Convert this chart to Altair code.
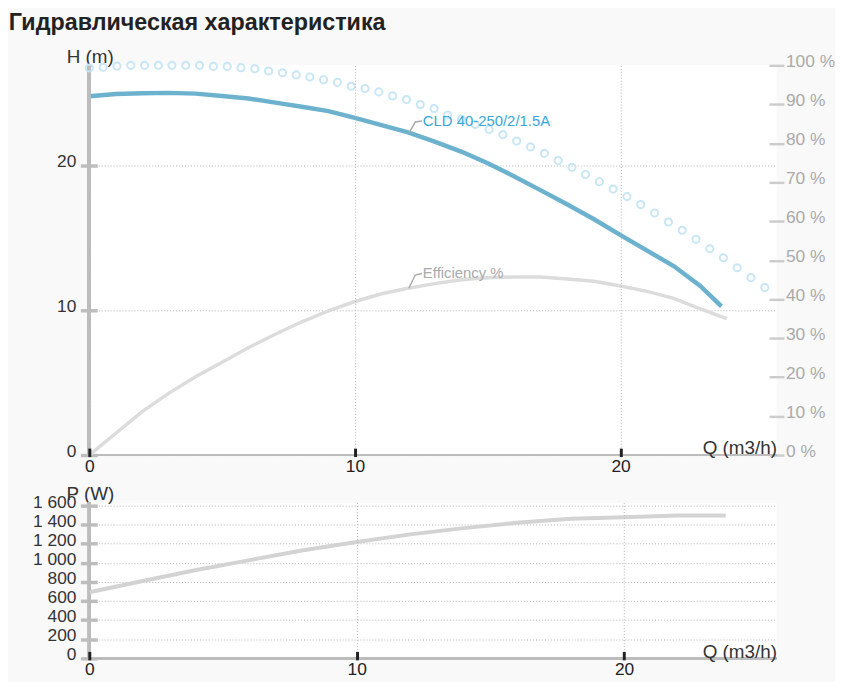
import altair as alt
import pandas as pd

TITLE = "Гидравлическая характеристика"
PUMP_NAME = "CLD 40-250/2/1.5A"
EFF_NAME = "Efficiency %"

# H-Q curve of the pump
q_head = [0, 1, 2, 3, 4, 5, 6, 7, 8, 9, 10, 11, 12, 13, 14, 15, 16, 17, 18, 19, 20, 21, 22, 23, 23.8]
h_curve = [24.77, 24.92, 24.98, 25.0, 24.95, 24.78, 24.61, 24.33, 24.04, 23.74, 23.28, 22.77, 22.27,
           21.63, 20.95, 20.14, 19.23, 18.27, 17.29, 16.28, 15.18, 14.11, 13.05, 11.68, 10.27]
# efficiency curve (%)
q_eff = [0, 1, 2, 3, 4, 5, 6, 7, 8, 9, 10, 11, 12, 13, 14, 15, 16, 17, 18, 19, 20, 21, 22, 23, 24]
eff_curve = [0, 5.6, 11.2, 15.9, 20.1, 23.8, 27.6, 31.0, 34.2, 37.0, 39.4, 41.4, 42.8,
             44.0, 45.0, 45.5, 45.7, 45.7, 45.2, 44.6, 43.4, 42.0, 40.2, 37.5, 35.0]

# dotted (circle markers) curve
q_dots = [0, 0.52, 1.04, 1.56, 2.08, 2.60, 3.11, 3.63, 4.15, 4.67, 5.19, 5.71, 6.23, 6.75, 7.27,
          7.79, 8.30, 8.82, 9.34, 9.86, 10.38, 10.90, 11.42, 11.94, 12.46, 12.98, 13.49, 14.01,
          14.53, 15.05, 15.57, 16.09, 16.61, 17.13, 17.65, 18.17, 18.68, 19.20, 19.72, 20.24,
          20.76, 21.28, 21.80, 22.32, 22.84, 23.36, 23.87, 24.39, 24.91, 25.43]
h_dots = [26.72, 26.77, 26.85, 26.90, 26.90, 26.90, 26.90, 26.90, 26.90, 26.83, 26.83, 26.74,
          26.67, 26.51, 26.39, 26.24, 26.10, 25.91, 25.73, 25.46, 25.30, 25.07, 24.79, 24.54,
          24.20, 23.92, 23.47, 23.19, 22.82, 22.48, 22.12, 21.68, 21.27, 20.83, 20.33, 19.87,
          19.37, 18.87, 18.36, 17.84, 17.29, 16.71, 16.09, 15.52, 14.90, 14.24, 13.62, 12.93,
          12.25, 11.56]

# power curve
q_power = [0, 2, 4, 6, 8, 10, 12, 14, 16, 18, 20, 22, 23.8]
p_power = [693, 810, 925, 1029, 1132, 1219, 1299, 1364, 1420, 1462, 1478, 1496, 1496]

# ticks
q_ticks = [0, 10, 20]
h_ticks = [0, 10, 20]
eff_ticks = [0, 10, 20, 30, 40, 50, 60, 70, 80, 90, 100]
p_ticks = [0, 200, 400, 600, 800, 1000, 1200, 1400, 1600]

# label anchors (connector polylines)
pump_label_q = [12.03, 12.27, 12.52]
pump_label_h = [22.21, 22.99, 23.06]
eff_label_q = [12.03, 12.27, 12.52]
eff_label_e = [42.8, 46.2, 46.6]

FONT = "Liberation Sans, Arial, Helvetica, sans-serif"
W = 693
H_TOP = 393
H_BOT = 157
GRID = "#b5b5b5"

df_h = pd.DataFrame({"Q": q_head, "H": h_curve})
df_e = pd.DataFrame({"Q": q_eff, "E": eff_curve})
df_d = pd.DataFrame({"Q": q_dots, "H": h_dots})
df_p = pd.DataFrame({"Q": q_power, "P": p_power})
df_pl = pd.DataFrame({"Q": pump_label_q, "H": pump_label_h, "o": [0, 1, 2]})
df_el = pd.DataFrame({"Q": eff_label_q, "E": eff_label_e, "o": [0, 1, 2]})
df_pt = pd.DataFrame({"Q": [pump_label_q[-1]], "H": [pump_label_h[-1]], "t": [PUMP_NAME]})
df_et = pd.DataFrame({"Q": [eff_label_q[-1]], "E": [eff_label_e[-1]], "t": [EFF_NAME]})

xs_top = alt.Scale(domain=[0, 25.87], nice=False, zero=False)
xs_bot = alt.Scale(domain=[0, 25.7], nice=False, zero=False)
hs = alt.Scale(domain=[0, 26.9], nice=False)
es = alt.Scale(domain=[0, 100], nice=False)
ps = alt.Scale(domain=[0, 1631], nice=False)


def x_axis(title_y):
    return alt.Axis(values=q_ticks, format="d", title="Q (m3/h)", titleX=W, titleY=title_y,
                    titleAlign="right", titleBaseline="alphabetic", titleAngle=0,
                    offset=-7, tickSize=8.5, tickWidth=3, tickColor="#222", domain=False,
                    grid=True, gridColor=GRID, gridDash=[1, 2], labelPadding=1.2,
                    labelFlush=False, labelOverlap=False, labelColor="#222", zindex=1)


def left_axis(values, title, expr=None):
    kw = dict(values=values, title=title, titleAngle=0, titleX=-7.5, titleY=-3,
              titleAlign="center", titleBaseline="alphabetic", offset=-8, tickSize=17,
              tickWidth=3.5, tickColor="#bdbdbd", domain=False, grid=True, gridColor=GRID,
              gridDash=[1, 2], labelPadding=4.5, labelOffset=-3.5, labelFlush=False,
              labelOverlap=False, labelColor="#333")
    if expr:
        kw["labelExpr"] = expr
    return alt.Axis(**kw)


AX_X_TOP = x_axis(5)
AX_X_BOT = x_axis(6.5)
AX_H = left_axis(h_ticks, "H (m)")
AX_P = left_axis(p_ticks, "P (W)", "replace(format(datum.value, ','), ',', ' ')")
AX_E = alt.Axis(
    orient="right", values=eff_ticks, labelExpr="datum.value + ' %'", title=None,
    offset=-7.5, tickSize=15, tickWidth=2.5, tickColor="#cccccc", domain=False, grid=False,
    labelPadding=1.5, labelOffset=-4, labelFlush=False, labelOverlap=False,
    labelColor="#aaaaaa")

# ---- top chart: H (left) + efficiency (right) ----
h_line = alt.Chart(df_h).mark_line(color="#6cb2cf", strokeWidth=4.5).encode(
    x=alt.X("Q:Q", scale=xs_top, axis=AX_X_TOP),
    y=alt.Y("H:Q", scale=hs, axis=AX_H))
rule_y = alt.Chart(df_h).mark_rule(color="#bdbdbd", strokeWidth=3).encode(
    x=alt.datum(0, scale=xs_top, axis=AX_X_TOP))
rule_x = alt.Chart(df_h).mark_rule(color="#bdbdbd", strokeWidth=2).encode(
    y=alt.datum(0, scale=hs, axis=AX_H))
dots = alt.Chart(df_d).mark_point(shape="circle", filled=False, color="#c8e6f5",
                                  strokeWidth=2, size=52, opacity=1).encode(
    x=alt.X("Q:Q", scale=xs_top, axis=AX_X_TOP),
    y=alt.Y("H:Q", scale=hs, axis=AX_H))
pump_conn = alt.Chart(df_pl).mark_line(color="#aaaaaa", strokeWidth=1.5).encode(
    x=alt.X("Q:Q", scale=xs_top, axis=AX_X_TOP),
    y=alt.Y("H:Q", scale=hs, axis=AX_H), order="o:O")
pump_txt = alt.Chart(df_pt).mark_text(align="left", baseline="middle", dx=1, fontSize=15,
                                      font=FONT, color="#3aa6d8").encode(
    x=alt.X("Q:Q", scale=xs_top, axis=AX_X_TOP),
    y=alt.Y("H:Q", scale=hs, axis=AX_H), text="t:N")
layer_h = alt.layer(h_line, rule_y, rule_x, dots, pump_conn, pump_txt)

e_line = alt.Chart(df_e).mark_line(color="#dcdcdc", strokeWidth=3.5).encode(
    x=alt.X("Q:Q", scale=xs_top, axis=AX_X_TOP),
    y=alt.Y("E:Q", scale=es, axis=AX_E))
eff_conn = alt.Chart(df_el).mark_line(color="#aaaaaa", strokeWidth=1.5).encode(
    x=alt.X("Q:Q", scale=xs_top, axis=AX_X_TOP),
    y=alt.Y("E:Q", scale=es, axis=AX_E), order="o:O")
eff_txt = alt.Chart(df_et).mark_text(align="left", baseline="middle", dx=1, fontSize=15,
                                     font=FONT, color="#aaaaaa").encode(
    x=alt.X("Q:Q", scale=xs_top, axis=AX_X_TOP),
    y=alt.Y("E:Q", scale=es, axis=AX_E), text="t:N")
layer_e = alt.layer(e_line, eff_conn, eff_txt)

top = alt.layer(layer_h, layer_e).resolve_scale(y="independent").properties(
    width=W, height=H_TOP)

# ---- bottom chart: power ----
p_line = alt.Chart(df_p).mark_line(color="#d3d3d3", strokeWidth=4).encode(
    x=alt.X("Q:Q", scale=xs_bot, axis=AX_X_BOT),
    y=alt.Y("P:Q", scale=ps, axis=AX_P))
rule_y2 = alt.Chart(df_p).mark_rule(color="#bdbdbd", strokeWidth=3).encode(
    x=alt.datum(0, scale=xs_bot, axis=AX_X_BOT))
rule_x2 = alt.Chart(df_p).mark_rule(color="#bdbdbd", strokeWidth=2).encode(
    y=alt.datum(0, scale=ps, axis=AX_P))
bottom = alt.layer(rule_y2, rule_x2, p_line).properties(width=W, height=H_BOT)

chart = alt.vconcat(top, bottom, spacing=9).properties(
    title=alt.TitleParams(TITLE, anchor="start", fontSize=23.5, fontWeight="bold", font=FONT,
                          color="#222222", dx=-24, offset=13),
    padding=0,
    background="#f9f9f9",
).configure_view(fill="white", stroke=None).configure_axis(
    labelFont=FONT, titleFont=FONT, labelFontSize=17.5, titleFontSize=19,
    titleFontWeight="normal", titleColor="#333333",
)

chart.save("out.html", embed_options={"renderer": "svg", "actions": False})
